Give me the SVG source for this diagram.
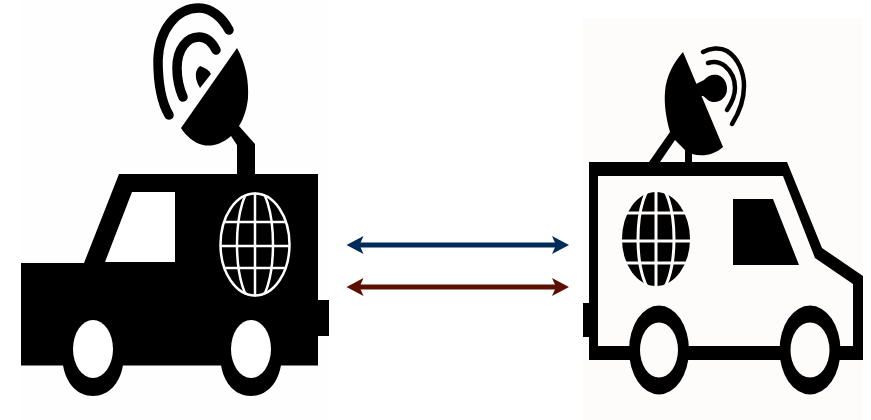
<svg xmlns="http://www.w3.org/2000/svg" width="871" height="420" viewBox="0 0 871 420">
<defs>
<style>
.k{fill:#000}
.w{fill:#fff}
.wave{fill:none;stroke:#000;stroke-linecap:round}
.cream{fill:#fdfcfa}
</style>
<clipPath id="clipLeft"><ellipse cx="255" cy="244.500" rx="35" ry="52"/></clipPath>
<clipPath id="clipRight"><ellipse cx="656" cy="239" rx="35" ry="48"/></clipPath>
<marker id="headBlue" markerUnits="userSpaceOnUse" markerWidth="26" markerHeight="22" refX="12" refY="11" orient="auto-start-reverse" viewBox="0 0 26 22"><path d="M5 2L22 11L5 20L9 11Z" fill="#002c5a"/></marker>
<marker id="headRed" markerUnits="userSpaceOnUse" markerWidth="26" markerHeight="22" refX="12" refY="11" orient="auto-start-reverse" viewBox="0 0 26 22"><path d="M5 2L22 11L5 20L9 11Z" fill="#5a0f00"/></marker>
</defs>
<rect width="871" height="420" fill="#fff"/>
<g id="van-left">
<rect x="21" width="308" height="420" fill="#fefefe"/>
<path class="k" d="M21 263H84L119 174H318V300H329V336H318V365.500H21Z"/>
<path class="k" d="M63 365H123C120 384 108 396 93 396C78 396 66 384 63 365ZM221 365H281C278 384 266 396 251 396C236 396 224 384 221 365Z"/>
<ellipse class="w" cx="93" cy="349" rx="20" ry="29"/>
<ellipse class="w" cx="251" cy="349" rx="20" ry="29"/>
<path class="w" d="M132 192H175V262H105Z"/>
<g fill="none" stroke="#fff" stroke-width="2.500">
<ellipse cx="255" cy="244.500" rx="34.500" ry="51"/>
<g clip-path="url(#clipLeft)">
<ellipse cx="255" cy="244.500" rx="18" ry="58"/>
<path d="M255 190V300M220 222H290M220 246H290M220 268H290"/>
</g>
</g>
<path class="k" d="M237 48C246 64 249 82 248 98C247 108 244 118 239 126L255 144V175H237V145L231 136C222 144 212 147 203 145C194 143 186 136 181 128Z"/>
<path class="wave" stroke-width="9.500" d="M169 115C160 100 158 80 158 60C159 30 176 8 199 8C211 8 222 17 229 30"/>
<path class="wave" stroke-width="9.500" d="M183 97C179 88 177 78 177 68C177 49 187 37 199 37C206 37 212 42 216 50"/>
<path class="k" d="M200 66C205 68 209 70 211 74L200 88C196 82 193 71 200 66Z"/>
</g>
<g id="van-right">
<rect class="cream" x="583" y="18" width="280" height="402"/>
<path class="k" d="M583 303H589V162H787L822 248L863 276V360H589V337H583Z"/>
<path class="cream" d="M598 176H783L815 258L853 284V346H598Z"/>
<ellipse class="k" cx="659" cy="350" rx="30" ry="44.500"/>
<ellipse class="cream" cx="659" cy="350" rx="19" ry="27.500"/>
<ellipse class="k" cx="810" cy="350" rx="30.500" ry="44.500"/>
<ellipse class="cream" cx="810" cy="350" rx="19.500" ry="27.500"/>
<path class="k" d="M733 199H773L799 265H733Z"/>
<ellipse class="k" cx="656" cy="239" rx="34" ry="47"/>
<g fill="none" stroke="#fdfcfa" stroke-width="3" clip-path="url(#clipRight)">
<ellipse cx="656" cy="239" rx="18" ry="55"/>
<path d="M656 188V290M618 213H694M618 241H694M618 263H694"/>
</g>
<path class="k" d="M683 52L723 147C714 155 703 157 692 154V162H685V150L675 140L660 162H649L670 132C666 118 664 104 665 92C666 76 674 62 683 52Z"/>
<path class="k" d="M696 84L704 80C708 75 713 74 718 75C724 77 727 83 727 89C727 97 720 103 713 102C709 102 706 98 703 96L701 96Z"/>
<path class="wave" stroke-width="4.500" d="M703 52C710 48 720 47 727 51C738 58 744 72 744 86C744 100 739 113 732 124"/>
<path class="wave" stroke-width="4.500" d="M708 63C714 61 720 62 725 66C732 72 735 80 735 88C735 96 731 104 727 110"/>
</g>
<g id="connectors" fill="none" stroke-width="5">
<path d="M356.500 245H559" stroke="#002c5a" marker-start="url(#headBlue)" marker-end="url(#headBlue)"/>
<path d="M356.500 287H559" stroke="#5a0f00" marker-start="url(#headRed)" marker-end="url(#headRed)"/>
</g>
</svg>
